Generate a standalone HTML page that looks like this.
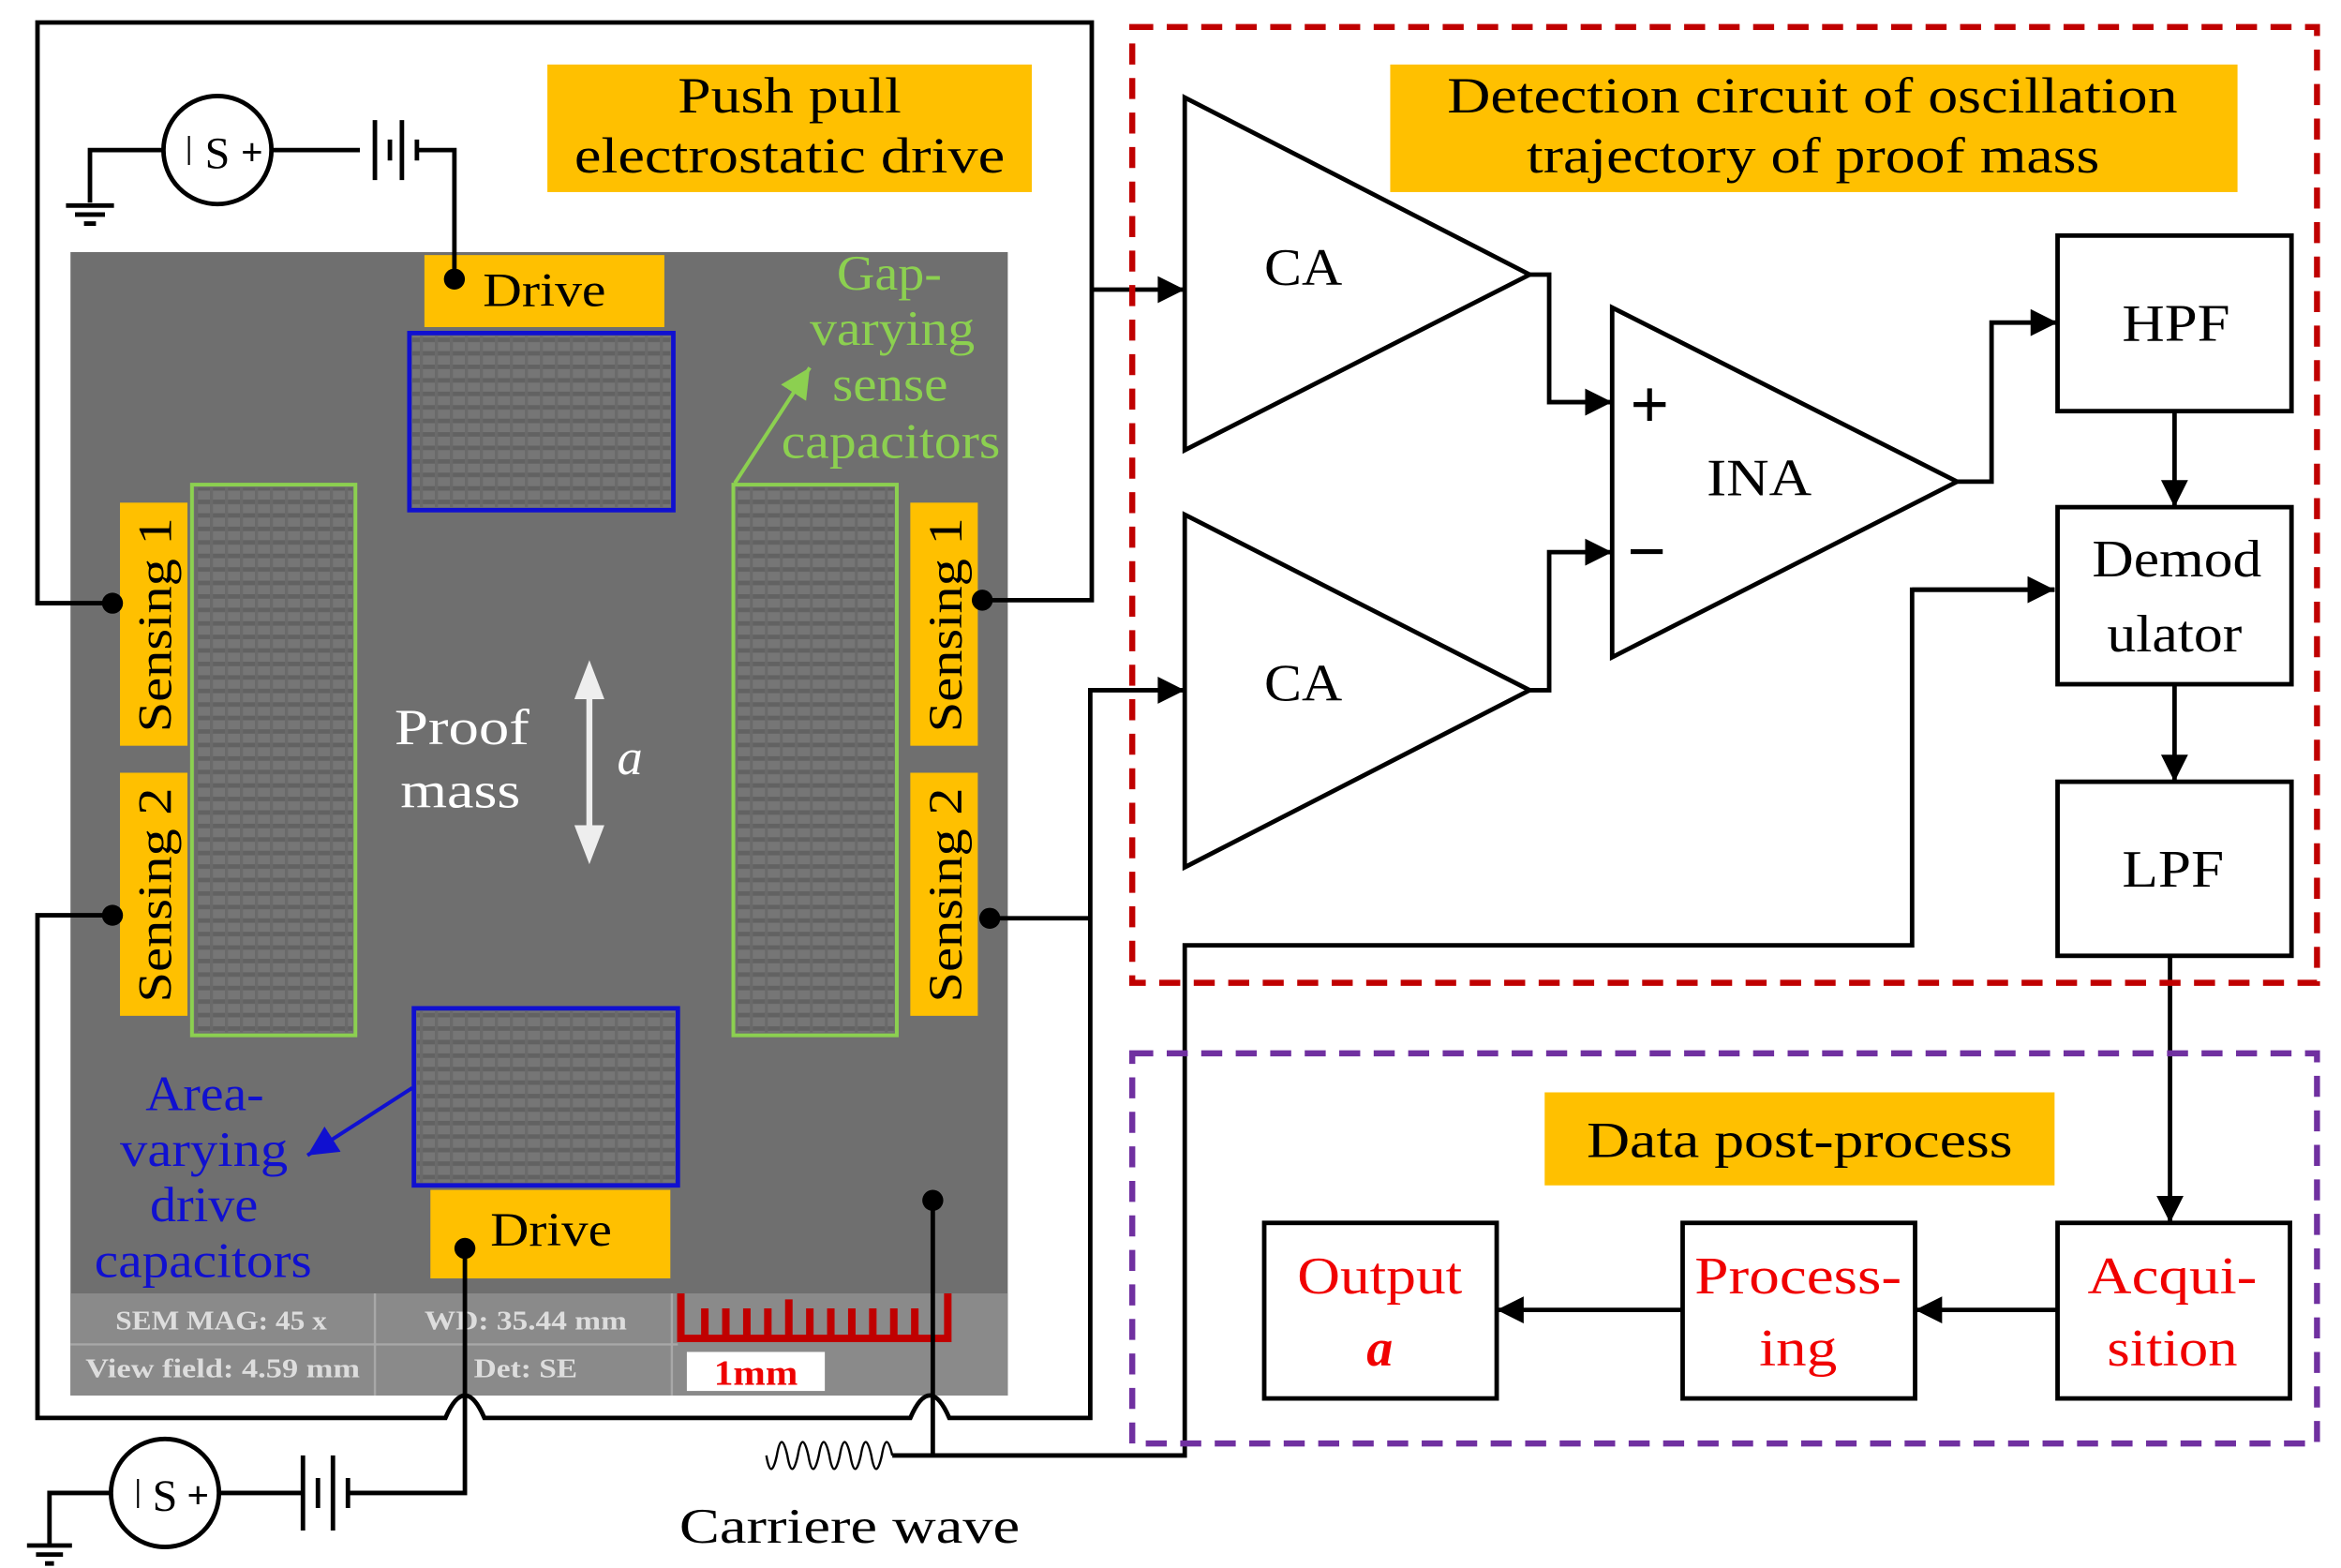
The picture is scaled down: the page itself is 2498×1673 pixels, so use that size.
<!DOCTYPE html>
<html><head><meta charset="utf-8"><style>
html,body{margin:0;padding:0;background:#fff;width:2498px;height:1673px;overflow:hidden}
svg{display:block}
text{font-family:"Liberation Serif",serif}
</style></head><body>
<svg width="2498" height="1673" viewBox="0 0 1561 1045" preserveAspectRatio="none" xmlns="http://www.w3.org/2000/svg">
<defs>
<marker id="ah" viewBox="0 0 10 10" refX="10" refY="5" markerWidth="22" markerHeight="18" markerUnits="userSpaceOnUse" orient="auto"><path d="M0,0 L10,5 L0,10 z" fill="#000"/></marker>
<marker id="ab" viewBox="0 0 10 10" refX="10" refY="5" markerWidth="8" markerHeight="8" orient="auto"><path d="M0,0 L10,5 L0,10 z" fill="#1010d0"/></marker>
<marker id="ag" viewBox="0 0 10 10" refX="10" refY="5" markerWidth="8" markerHeight="8" orient="auto"><path d="M0,0 L10,5 L0,10 z" fill="#8cd050"/></marker>
<pattern id="comb" width="10" height="9" patternUnits="userSpaceOnUse"><rect width="10" height="9" fill="#7a7a7a"/><rect x="0" y="0" width="10" height="3" fill="#5a5a5a"/><rect x="0" y="0" width="2" height="9" fill="#666"/></pattern>
</defs>
<!-- SEM image -->
<rect x="47" y="168" width="625" height="762" fill="#6f6f6f"/>
<rect x="47" y="862" width="625" height="68" fill="#8a8a8a"/>
<line x1="47" y1="896" x2="452" y2="896" stroke="#a8a8a8" stroke-width="1.5"/>
<line x1="250" y1="862" x2="250" y2="930" stroke="#a8a8a8" stroke-width="1.5"/>
<line x1="448" y1="862" x2="448" y2="930" stroke="#a8a8a8" stroke-width="1.5"/>
<rect x="130" y="325" width="105" height="363" fill="url(#comb)" opacity="0.6"/>
<rect x="491" y="325" width="105" height="363" fill="url(#comb)" opacity="0.6"/>
<rect x="275" y="224" width="172" height="114" fill="url(#comb)" opacity="0.6"/>
<rect x="278" y="674" width="172" height="114" fill="url(#comb)" opacity="0.6"/>
<g font-family="Liberation Sans" font-weight="bold" font-size="18" fill="#ddd" lengthAdjust="spacingAndGlyphs">
<text x="77" y="886" textLength="141" lengthAdjust="spacingAndGlyphs">SEM MAG: 45 x</text>
<text x="57" y="918" textLength="183" lengthAdjust="spacingAndGlyphs">View field: 4.59 mm</text>
<text x="283" y="886" textLength="135" lengthAdjust="spacingAndGlyphs">WD: 35.44 mm</text>
<text x="316" y="918" textLength="69" lengthAdjust="spacingAndGlyphs">Det: SE</text>
</g>
<path d="M454,862 V892 H632 V862 M470,892 V872 M484,892 V872 M498,892 V872 M512,892 V872 M526,892 V866 M540,892 V872 M554,892 V872 M568,892 V872 M582,892 V872 M596,892 V872 M610,892 V872" stroke="#c00000" stroke-width="5" fill="none"/>
<rect x="458" y="901" width="92" height="26" fill="#fff"/>
<text x="476" y="923" font-family="Liberation Sans" font-weight="bold" font-size="24" fill="#e00" textLength="56" lengthAdjust="spacingAndGlyphs">1mm</text>
<!-- coloured rects -->
<rect x="273" y="222" width="176" height="118" fill="none" stroke="#1010d0" stroke-width="3"/>
<rect x="276" y="672" width="176" height="118" fill="none" stroke="#1010d0" stroke-width="3"/>
<rect x="128" y="323" width="109" height="367" fill="none" stroke="#8cd050" stroke-width="2.5"/>
<rect x="489" y="323" width="109" height="367" fill="none" stroke="#8cd050" stroke-width="2.5"/>
<!-- yellow labels -->
<rect x="283" y="170" width="160" height="48" fill="#ffc000"/>
<text x="322" y="204" font-size="32" textLength="82" lengthAdjust="spacingAndGlyphs">Drive</text>
<rect x="287" y="793" width="160" height="59" fill="#ffc000"/>
<text x="327" y="830" font-size="32" textLength="81" lengthAdjust="spacingAndGlyphs">Drive</text>
<rect x="80" y="335" width="45" height="162" fill="#ffc000"/>
<rect x="80" y="515" width="45" height="162" fill="#ffc000"/>
<rect x="607" y="335" width="45" height="162" fill="#ffc000"/>
<rect x="607" y="515" width="45" height="162" fill="#ffc000"/>
<g font-size="32">
<text transform="translate(114,488) rotate(-90)" textLength="143" lengthAdjust="spacingAndGlyphs">Sensing 1</text>
<text transform="translate(114,668) rotate(-90)" textLength="143" lengthAdjust="spacingAndGlyphs">Sensing 2</text>
<text transform="translate(641,488) rotate(-90)" textLength="143" lengthAdjust="spacingAndGlyphs">Sensing 1</text>
<text transform="translate(641,668) rotate(-90)" textLength="143" lengthAdjust="spacingAndGlyphs">Sensing 2</text>
</g>
<rect x="365" y="43" width="323" height="85" fill="#ffc000"/>
<text x="452" y="75" font-size="34" textLength="149" lengthAdjust="spacingAndGlyphs">Push pull</text>
<text x="383" y="115" font-size="34" textLength="287" lengthAdjust="spacingAndGlyphs">electrostatic drive</text>
<!-- proof mass -->
<text x="263" y="496" font-size="34" fill="#fff" textLength="90" lengthAdjust="spacingAndGlyphs">Proof</text>
<text x="267" y="538" font-size="34" fill="#fff" textLength="80" lengthAdjust="spacingAndGlyphs">mass</text>
<path d="M393,458 V558" stroke="#eee" stroke-width="4"/>
<path d="M383,466 L393,440 L403,466 z M383,550 L393,576 L403,550 z" fill="#eee"/>
<text x="420" y="516" font-size="34" font-style="italic" fill="#fff" text-anchor="middle">a</text>
<!-- green text -->
<g fill="#8cd050" font-size="33">
<text x="558" y="193" textLength="70" lengthAdjust="spacingAndGlyphs">Gap-</text>
<text x="540" y="230" textLength="110" lengthAdjust="spacingAndGlyphs">varying</text>
<text x="555" y="267" textLength="77" lengthAdjust="spacingAndGlyphs">sense</text>
<text x="521" y="305" textLength="146" lengthAdjust="spacingAndGlyphs">capacitors</text></g>
<line x1="490" y1="322" x2="540" y2="245" stroke="#8cd050" stroke-width="2.5" marker-end="url(#ag)"/>
<g fill="#1010d0" font-size="33">
<text x="97" y="740" textLength="79" lengthAdjust="spacingAndGlyphs">Area-</text>
<text x="80" y="777" textLength="112" lengthAdjust="spacingAndGlyphs">varying</text>
<text x="100" y="814" textLength="72" lengthAdjust="spacingAndGlyphs">drive</text>
<text x="63" y="851" textLength="145" lengthAdjust="spacingAndGlyphs">capacitors</text></g>
<line x1="275" y1="725" x2="205" y2="770" stroke="#1010d0" stroke-width="2.5" marker-end="url(#ab)"/>
<!-- wiring -->
<g stroke="#000" stroke-width="3" fill="none">
<path d="M75,402 H25 V15 H728 V400 H655"/>
<path d="M728,193 H790" marker-end="url(#ah)"/>
<path d="M75,610 H25 V945 H297 Q310,915 323,945 H607 Q620,915 633,945 H727 V460 H790" marker-end="url(#ah)"/>
<path d="M660,612 H727"/>
<path d="M303,186 V100 H278 M278,93 V107 M268,80 V120 M260,93 V107 M250,80 V120 M240,100 H181 M109,100 H60 V135"/>
<path d="M44,137 H76 M50,143 H70 M56,149 H64"/>
<path d="M310,832 V995 H232 M232,985 V1005 M222,970 V1020 M212,985 V1005 M202,970 V1020 M202,995 H146 M74,995 H33 V1030"/>
<path d="M18,1030 H48 M24,1036 H42 M30,1042 H36"/>
<path d="M622,800 V970 H595 M622,970 H790 V630 H1275 V393 H1370" />
<path d="M1275,393 H1370" marker-end="url(#ah)"/>
<path d="M595,970 q-4,-18 -7,0 q-4,18 -7,0 q-4,-18 -7,0 q-4,18 -7,0 q-4,-18 -7,0 q-4,18 -7,0 q-4,-18 -7,0 q-4,18 -7,0 q-4,-18 -7,0 q-4,18 -7,0 q-4,-18 -7,0 q-4,18 -7,0" stroke-width="1.5"/>
<circle cx="145" cy="100" r="36"/>
<circle cx="110" cy="995" r="36"/>
<path d="M1020,183 H1033 V268 H1075" marker-end="url(#ah)"/>
<path d="M1020,460 H1033 V368 H1075" marker-end="url(#ah)"/>
<path d="M1305,321 H1328 V215 H1372" marker-end="url(#ah)"/>
<path d="M1450,274 V338" marker-end="url(#ah)"/>
<path d="M1450,456 V521" marker-end="url(#ah)"/>
<path d="M1447,637 V815" marker-end="url(#ah)"/>
<path d="M1372,873 H1277" marker-end="url(#ah)"/>
<path d="M1122,873 H998" marker-end="url(#ah)"/>
<path d="M790,65 V300 L1020,183 z M790,343 V578 L1020,460 z M1075,205 V438 L1305,321 z"/>
<rect x="1372" y="157" width="156" height="117"/>
<rect x="1372" y="338" width="156" height="118"/>
<rect x="1372" y="521" width="156" height="116"/>
<rect x="1372" y="815" width="155" height="117"/>
<rect x="1122" y="815" width="155" height="117"/>
<rect x="843" y="815" width="155" height="117"/>
</g>
<text x="126" y="110" font-size="28" text-anchor="middle" font-family="Liberation Sans">ǀ</text>
<text x="145" y="112" font-size="30" text-anchor="middle" font-family="Liberation Sans">S</text>
<text x="168" y="110" font-size="26" text-anchor="middle" font-family="Liberation Sans" font-weight="bold">+</text>
<text x="92" y="1005" font-size="28" text-anchor="middle" font-family="Liberation Sans">ǀ</text>
<text x="110" y="1007" font-size="30" text-anchor="middle" font-family="Liberation Sans">S</text>
<text x="132" y="1005" font-size="26" text-anchor="middle" font-family="Liberation Sans" font-weight="bold">+</text>
<g fill="#000">
<circle cx="75" cy="402" r="7"/><circle cx="655" cy="400" r="7"/><circle cx="75" cy="610" r="7"/><circle cx="660" cy="612" r="7"/>
<circle cx="303" cy="186" r="7"/><circle cx="310" cy="832" r="7"/><circle cx="622" cy="800" r="7"/>
</g>
<text x="453" y="1028" font-size="33" textLength="227" lengthAdjust="spacingAndGlyphs">Carriere wave</text>
<!-- dashed boxes -->
<rect x="755" y="18" width="790" height="637" fill="none" stroke="#c00000" stroke-width="4" stroke-dasharray="14,9"/>
<rect x="755" y="702" width="790" height="260" fill="none" stroke="#7030a0" stroke-width="4" stroke-dasharray="14,9"/>
<rect x="927" y="43" width="565" height="85" fill="#ffc000"/>
<text x="965" y="75" font-size="34" textLength="487" lengthAdjust="spacingAndGlyphs">Detection circuit of oscillation</text>
<text x="1018" y="115" font-size="34" textLength="382" lengthAdjust="spacingAndGlyphs">trajectory of proof mass</text>
<rect x="1030" y="728" width="340" height="62" fill="#ffc000"/>
<text x="1058" y="771" font-size="34" textLength="284" lengthAdjust="spacingAndGlyphs">Data post-process</text>
<g font-size="35">
<text x="843" y="190" textLength="52" lengthAdjust="spacingAndGlyphs">CA</text>
<text x="843" y="467" textLength="52" lengthAdjust="spacingAndGlyphs">CA</text>
<text x="1138" y="330" textLength="70" lengthAdjust="spacingAndGlyphs">INA</text>
<text x="1100" y="285" font-size="46" font-weight="bold" text-anchor="middle" font-family="Liberation Sans">+</text>
<text x="1098" y="383" font-size="46" font-weight="bold" text-anchor="middle" font-family="Liberation Sans">−</text>
<text x="1415" y="227" textLength="72" lengthAdjust="spacingAndGlyphs">HPF</text>
<text x="1395" y="384" textLength="113" lengthAdjust="spacingAndGlyphs">Demod</text>
<text x="1405" y="434" textLength="90" lengthAdjust="spacingAndGlyphs">ulator</text>
<text x="1415" y="591" textLength="68" lengthAdjust="spacingAndGlyphs">LPF</text>
</g>
<g font-size="35" fill="#f00000">
<text x="1392" y="862" textLength="113" lengthAdjust="spacingAndGlyphs">Acqui-</text>
<text x="1405" y="910" textLength="87" lengthAdjust="spacingAndGlyphs">sition</text>
<text x="1130" y="862" textLength="138" lengthAdjust="spacingAndGlyphs">Process-</text>
<text x="1173" y="910" textLength="52" lengthAdjust="spacingAndGlyphs">ing</text>
<text x="865" y="862" textLength="110" lengthAdjust="spacingAndGlyphs">Output</text>
<text x="920" y="910" font-style="italic" font-weight="bold" text-anchor="middle">a</text>
</g>
</svg>
</body></html>
